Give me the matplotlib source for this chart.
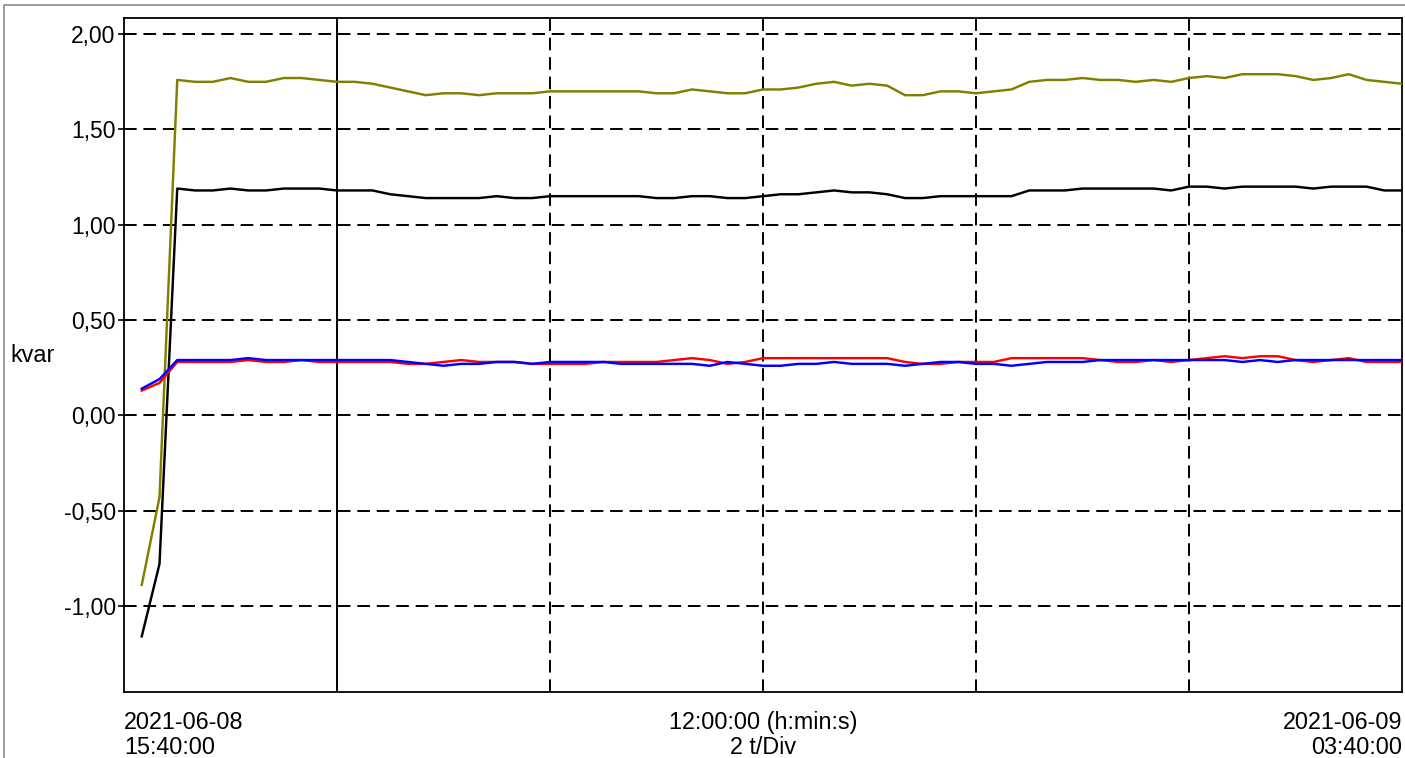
import matplotlib

matplotlib.use("Agg")

import matplotlib.pyplot as plt
import numpy as np
import pandas as pd
from matplotlib.patches import Rectangle

plt.rcParams["font.family"] = ["Liberation Sans", "DejaVu Sans"]

# 10-minute reactive power samples, 2021-06-08 15:50 .. 2021-06-09 03:40
t_start = "2021-06-08 15:50"
n_samples = 72
window = (pd.Timestamp("2021-06-08 15:40"), pd.Timestamp("2021-06-09 03:40"))

q_total = [
    -0.89, -0.43, 1.76, 1.75, 1.75, 1.77, 1.75, 1.75, 1.77, 1.77,
    1.76, 1.75, 1.75, 1.74, 1.72, 1.70, 1.68, 1.69, 1.69, 1.68,
    1.69, 1.69, 1.69, 1.70, 1.70, 1.70, 1.70, 1.70, 1.70, 1.69,
    1.69, 1.71, 1.70, 1.69, 1.69, 1.71, 1.71, 1.72, 1.74, 1.75,
    1.73, 1.74, 1.73, 1.68, 1.68, 1.70, 1.70, 1.69, 1.70, 1.71,
    1.75, 1.76, 1.76, 1.77, 1.76, 1.76, 1.75, 1.76, 1.75, 1.77,
    1.78, 1.77, 1.79, 1.79, 1.79, 1.78, 1.76, 1.77, 1.79, 1.76,
    1.75, 1.74,
]
q_sum = [
    -1.16, -0.78, 1.19, 1.18, 1.18, 1.19, 1.18, 1.18, 1.19, 1.19,
    1.19, 1.18, 1.18, 1.18, 1.16, 1.15, 1.14, 1.14, 1.14, 1.14,
    1.15, 1.14, 1.14, 1.15, 1.15, 1.15, 1.15, 1.15, 1.15, 1.14,
    1.14, 1.15, 1.15, 1.14, 1.14, 1.15, 1.16, 1.16, 1.17, 1.18,
    1.17, 1.17, 1.16, 1.14, 1.14, 1.15, 1.15, 1.15, 1.15, 1.15,
    1.18, 1.18, 1.18, 1.19, 1.19, 1.19, 1.19, 1.19, 1.18, 1.20,
    1.20, 1.19, 1.20, 1.20, 1.20, 1.20, 1.19, 1.20, 1.20, 1.20,
    1.18, 1.18,
]
q_l1 = [
    0.13, 0.17, 0.28, 0.28, 0.28, 0.28, 0.29, 0.28, 0.28, 0.29,
    0.28, 0.28, 0.28, 0.28, 0.28, 0.27, 0.27, 0.28, 0.29, 0.28,
    0.28, 0.28, 0.27, 0.27, 0.27, 0.27, 0.28, 0.28, 0.28, 0.28,
    0.29, 0.30, 0.29, 0.27, 0.28, 0.30, 0.30, 0.30, 0.30, 0.30,
    0.30, 0.30, 0.30, 0.28, 0.27, 0.27, 0.28, 0.28, 0.28, 0.30,
    0.30, 0.30, 0.30, 0.30, 0.29, 0.28, 0.28, 0.29, 0.28, 0.29,
    0.30, 0.31, 0.30, 0.31, 0.31, 0.29, 0.28, 0.29, 0.30, 0.28,
    0.28, 0.28,
]
q_l2 = [
    0.14, 0.19, 0.29, 0.29, 0.29, 0.29, 0.30, 0.29, 0.29, 0.29,
    0.29, 0.29, 0.29, 0.29, 0.29, 0.28, 0.27, 0.26, 0.27, 0.27,
    0.28, 0.28, 0.27, 0.28, 0.28, 0.28, 0.28, 0.27, 0.27, 0.27,
    0.27, 0.27, 0.26, 0.28, 0.27, 0.26, 0.26, 0.27, 0.27, 0.28,
    0.27, 0.27, 0.27, 0.26, 0.27, 0.28, 0.28, 0.27, 0.27, 0.26,
    0.27, 0.28, 0.28, 0.28, 0.29, 0.29, 0.29, 0.29, 0.29, 0.29,
    0.29, 0.29, 0.28, 0.29, 0.28, 0.29, 0.29, 0.29, 0.29, 0.29,
    0.29, 0.29,
]

series = [
    (q_total, "#808000"),
    (q_sum, "#000000"),
    (q_l1, "#ff0000"),
    (q_l2, "#0000ff"),
]

y_ticks = [2.0, 1.5, 1.0, 0.5, 0.0, -0.5, -1.0]

times = pd.date_range(t_start, periods=n_samples, freq="10min")

fig = plt.figure(figsize=(14.05, 7.58), dpi=100)
# outer frame of the panel
fig.patches.append(Rectangle((4 / 1405, -0.1), 1.2, 1.1 - 5 / 758, transform=fig.transFigure,
                             fill=False, edgecolor="#8c8c8c", linewidth=1.2))
ax = fig.add_axes([124 / 1405, 66 / 758, 1278 / 1405, 674 / 758])

for values, color in series:
    ax.plot(times, values, color=color, linewidth=1.75, zorder=3)

ax.set_xlim(*window)
ax.set_ylim(-1.452, 2.085)

divs = pd.date_range(window[0], window[1], freq="2h")
ax.set_xticks(divs[1:-1])
ax.set_xticklabels([])
ax.tick_params(axis="x", length=0)
for i, d in enumerate(divs[1:-1]):
    if i == 0:
        ax.axvline(d, color="black", linewidth=1.4, zorder=2)
    else:
        ax.axvline(d, color="black", linewidth=1.4, dashes=(6.5, 3.5), zorder=2)

ax.set_yticks(y_ticks)
ax.set_yticklabels([f"{v:.2f}".replace(".", ",") for v in y_ticks], fontsize=16.5)
ax.tick_params(axis="y", length=4, width=1.2, pad=2)
for v in y_ticks:
    ax.axhline(v, color="black", linewidth=1.4, dashes=(6.5, 3.5), zorder=2)

for spine in ax.spines.values():
    spine.set_linewidth(1.3)

fig.text(10 / 1405, 1 - 356 / 758, "kvar", fontsize=16.8, va="center", ha="left")

label_kw = dict(fontsize=16.8, va="center")
ax.text(0, -0.045, "2021-06-08", ha="left", transform=ax.transAxes, **label_kw)
ax.text(0, -0.082, "15:40:00", ha="left", transform=ax.transAxes, **label_kw)
ax.text(0.5, -0.045, "12:00:00 (h:min:s)", ha="center", transform=ax.transAxes, **label_kw)
ax.text(0.5, -0.082, "2 t/Div", ha="center", transform=ax.transAxes, **label_kw)
ax.text(1, -0.045, "2021-06-09", ha="right", transform=ax.transAxes, **label_kw)
ax.text(1, -0.082, "03:40:00", ha="right", transform=ax.transAxes, **label_kw)

fig.savefig("out.png", dpi=100)
plt.close(fig)
